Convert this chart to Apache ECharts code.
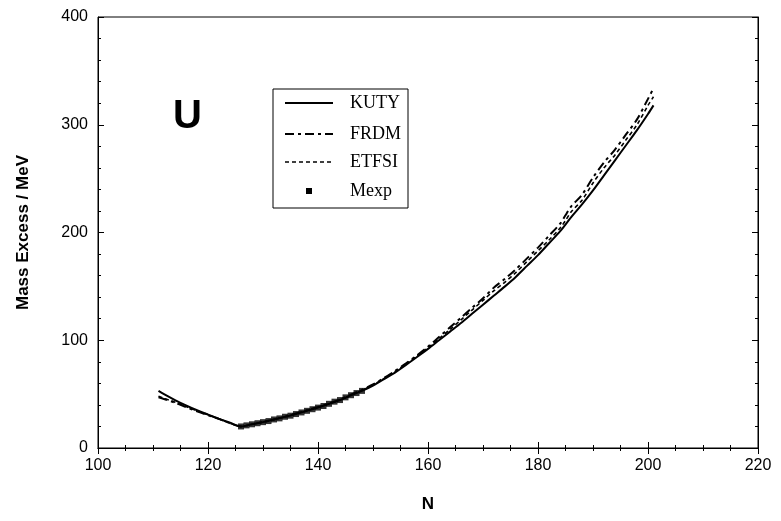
<!DOCTYPE html>
<html><head><meta charset="utf-8">
<script src="https://cdn.jsdelivr.net/npm/echarts@6/dist/echarts.min.js"></script>
<style>html,body{margin:0;padding:0;background:#fff}#c{width:781px;height:521px}</style>
</head><body><div id="c"></div>
<script>
var nKUTY = [111,112,114,116,118,120,122,124,126,128,130,132,134,136,138,140,142,144,146,148,150,152,154,156,158,160,162,164,166,168,170,172,174,176,178,180,182,184,186,188,190,192,194,196,198,200,201];
var vKUTY = [53,50,44.5,39.5,35,31,27,23.5,20,22,24,26.5,29,31.5,34.5,37.5,41,44.5,49,53,58,64,70,77,84.5,92,100,108,116,124.5,133,141.5,150,159,169,179,190,201,214,226,239,253,267,281,295,310,318];
var nFRDM = [111,112,114,116,118,120,122,124,126,128,130,132,134,136,138,140,142,144,146,148,150,152,154,156,158,160,162,164,166,168,170,172,174,176,178,180,182,184,185,186,188,190,192,194,196,198,200,201];
var vFRDM = [47,45.5,42,38,34,30.5,27,23,20,22,24,26.5,29,32,35,38,41.5,45,49.5,54,59,65,71.5,78.5,86,94,103,112,121,130,139,149,157,166,176,186,197,208,216,224,235,251,265,277,291,305,324,334];
var nETFSI = [111,112,114,116,118,120,122,124,126,128,130,132,134,136,138,140,142,144,146,148,150,152,154,156,158,160,162,164,166,168,170,172,174,176,178,180,182,184,185,186,188,190,192,194,196,198,200,201];
var vETFSI = [48,46,42.5,38.5,34.5,31,27,23,20,22,24,26.5,29,32,35,38,41,44.5,49,53.5,58.5,64.5,71,78,85.5,93,101.5,110,119,128,137,146,154,163,173,183,193,204,211,219,230,246,260,272,286,300,318,326];
var nMexp = [126,127,128,129,130,131,132,133,134,135,136,137,138,139,140,141,142,143,144,145,146,147,148];
var vMexp = [20,21,22,23,24,25,26.5,27.5,29,30,31.5,33,34.5,36,37.5,39,41,43,44.5,47,49,51,53];
var xTicks = [100,120,140,160,180,200,220];
var yTicks = [0,100,200,300,400];
var legendNames = ['KUTY','FRDM','ETFSI','Mexp'];

function pairs(a,b){return a.map(function(v,i){return [v,b[i]];});}
var chart = echarts.init(document.getElementById('c'));
var lab = {color:'#000',fontFamily:'Liberation Sans, Arial, sans-serif',fontSize:16};
var tick = {show:true,inside:true,length:6,lineStyle:{color:'#000',width:1}};
var minor = {show:true,length:3,lineStyle:{color:'#000',width:1}};
var dashes = [null,[9,4,3,4],[4,3]];
var serif = '18px Liberation Serif, Times New Roman, serif';
var LX = 273, LT = 89, LR = 408, LB = 208, rowY = [103,134,162,191];
var g = [{type:'rect',shape:{x:LX,y:LT,width:LR-LX,height:LB-LT},style:{fill:'#fff',stroke:'#000',lineWidth:1},z:10},
  {type:'text',left:173,top:97,style:{text:'U',fill:'#000',font:'bold 40px Liberation Sans, Arial, sans-serif'},z:10}];
legendNames.forEach(function(nm,i){
  if(i<3){
    g.push({type:'line',shape:{x1:285,y1:rowY[i],x2:333,y2:rowY[i]},style:{stroke:'#000',lineWidth:i===2?1.6:2,lineDash:dashes[i]},z:11});
  } else {
    g.push({type:'rect',shape:{x:306,y:rowY[i]-3,width:6,height:6},style:{fill:'#000'},z:11});
  }
  g.push({type:'text',x:350,y:rowY[i],style:{text:nm,fill:'#000',font:serif,textVerticalAlign:'middle'},z:11});
});
chart.setOption({
  animation:false,
  grid:{left:98,right:23,top:17,bottom:73,show:true,borderColor:'#000',borderWidth:1},
  xAxis:[{type:'value',min:xTicks[0],max:xTicks[xTicks.length-1],interval:20,
    name:'N',nameLocation:'middle',nameGap:48,
    nameTextStyle:{color:'#000',fontFamily:'Liberation Sans, Arial, sans-serif',fontSize:17,fontWeight:'bold'},
    axisLine:{show:true,lineStyle:{color:'#000'}},axisTick:tick,minorTick:Object.assign({splitNumber:4},minor),
    splitLine:{show:false},axisLabel:Object.assign({margin:10},lab)},
    {type:'value',position:'top',min:100,max:220,interval:20,axisLine:{show:true,lineStyle:{color:'#000'}},
    axisTick:tick,minorTick:Object.assign({splitNumber:4},minor),axisLabel:{show:false},splitLine:{show:false}}],
  yAxis:[{type:'value',min:yTicks[0],max:yTicks[yTicks.length-1],interval:100,
    name:'Mass Excess / MeV',nameLocation:'middle',nameGap:66,
    nameTextStyle:{color:'#000',fontFamily:'Liberation Sans, Arial, sans-serif',fontSize:17,fontWeight:'bold'},
    axisLine:{show:true,lineStyle:{color:'#000'}},axisTick:tick,minorTick:Object.assign({splitNumber:5},minor),
    splitLine:{show:false},axisLabel:Object.assign({margin:10},lab)},
    {type:'value',position:'right',min:0,max:400,interval:100,axisLine:{show:true,lineStyle:{color:'#000'}},
    axisTick:tick,minorTick:Object.assign({splitNumber:5},minor),axisLabel:{show:false},splitLine:{show:false}}],
  graphic:g,
  series:[
    {name:'KUTY',type:'line',data:pairs(nKUTY,vKUTY),symbol:'none',smooth:0.3,lineStyle:{color:'#000',width:2}},
    {name:'FRDM',type:'line',data:pairs(nFRDM,vFRDM),symbol:'none',smooth:0.3,lineStyle:{color:'#000',width:2,type:dashes[1]}},
    {name:'ETFSI',type:'line',data:pairs(nETFSI,vETFSI),symbol:'none',smooth:0.3,lineStyle:{color:'#000',width:1.6,type:dashes[2]}},
    {name:'Mexp',type:'scatter',data:pairs(nMexp,vMexp),symbol:'rect',symbolSize:6,itemStyle:{color:'#000'}}
  ]
});
</script></body></html>
